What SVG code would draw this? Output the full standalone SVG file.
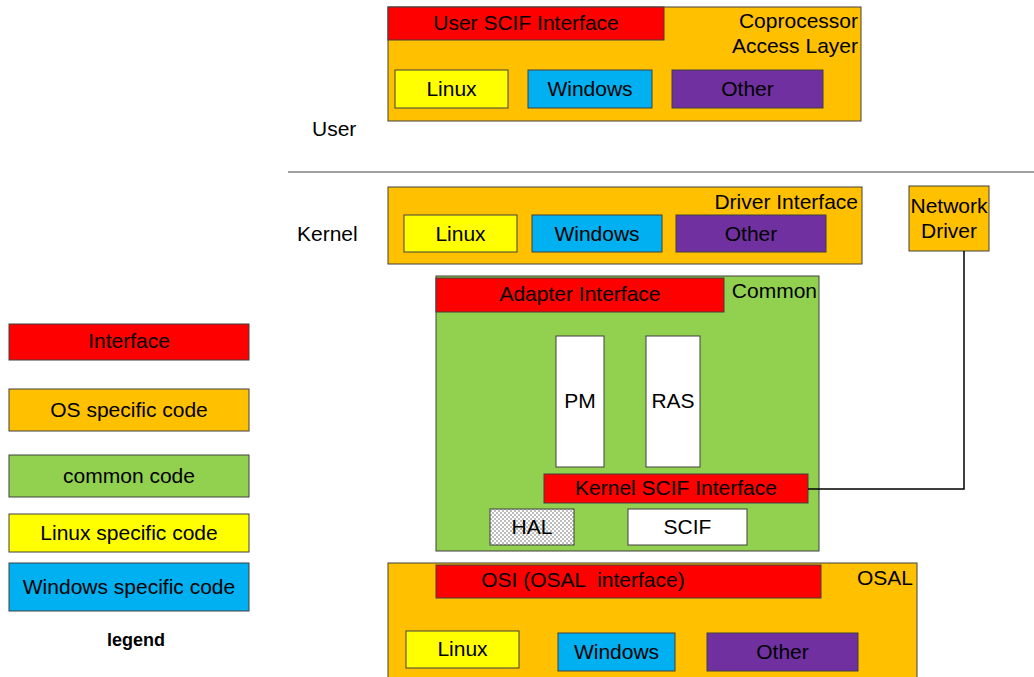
<svg xmlns="http://www.w3.org/2000/svg" width="1034" height="677" viewBox="0 0 1034 677">
<defs>
<pattern id="chk" width="4" height="4" patternUnits="userSpaceOnUse">
<path d="M0 0H4V4H0Z" fill="#ffffff"/>
<path d="M0 0H2V2H0Z M2 2H4V4H2Z" fill="#bdbdbd"/>
</pattern>
</defs>
<style>
rect{stroke:#404040;stroke-width:1}
.or{fill:#FFC000}.rd{fill:#FF0000}.gr{fill:#92D050}.ye{fill:#FFFF00}.bl{fill:#00B0F0}.pu{fill:#7030A0}.wh{fill:#ffffff}
text{font-family:"Liberation Sans",Arial,sans-serif;font-size:21px;fill:#000}
.c{text-anchor:middle}.r{text-anchor:end}
.conn{fill:none;stroke:#000;stroke-width:1.5}
</style>
<line x1="288" y1="172" x2="1034" y2="172" stroke="#808080" stroke-width="1.5"/>
<text x="312" y="136">User</text>
<text x="297" y="241">Kernel</text>

<g id="cal">
<rect class="or" x="388" y="7" width="473" height="114"/>
<rect class="rd" x="388" y="7" width="276" height="33"/>
<text class="c" x="526" y="30">User SCIF Interface</text>
<text class="r" x="858" y="28">Coprocessor</text>
<text class="r" x="858" y="53">Access Layer</text>
</g>
<g id="cal-linux"><rect class="ye" x="395" y="70" width="113" height="38"/><text class="c" x="451.5" y="96">Linux</text></g>
<g id="cal-windows"><rect class="bl" x="528" y="70" width="124" height="38"/><text class="c" x="590" y="96">Windows</text></g>
<g id="cal-other"><rect class="pu" x="672" y="70" width="151" height="38"/><text class="c" x="747.5" y="96">Other</text></g>

<g id="driver">
<rect class="or" x="388" y="187" width="474" height="77"/>
<text class="r" x="858" y="209">Driver Interface</text>
</g>
<g id="drv-linux"><rect class="ye" x="404" y="215" width="113" height="37"/><text class="c" x="460.5" y="241">Linux</text></g>
<g id="drv-windows"><rect class="bl" x="532" y="215" width="130" height="37"/><text class="c" x="597" y="241">Windows</text></g>
<g id="drv-other"><rect class="pu" x="676" y="215" width="150" height="37"/><text class="c" x="751" y="241">Other</text></g>

<g id="network">
<rect class="or" x="909" y="186" width="80" height="65"/>
<text class="c" x="949" y="213">Network</text>
<text class="c" x="949" y="238">Driver</text>
</g>

<g id="common">
<rect class="gr" x="436" y="276" width="383" height="275"/>
<text class="r" x="817" y="298">Common</text>
</g>
<g id="adapter"><rect class="rd" x="436" y="278" width="288" height="34"/><text class="c" x="580" y="301">Adapter Interface</text></g>
<g id="pm"><rect class="wh" x="556" y="336" width="48" height="131"/><text class="c" x="580" y="408">PM</text></g>
<g id="ras"><rect class="wh" x="646" y="336" width="54" height="131"/><text class="c" x="673" y="408">RAS</text></g>
<g id="kscif"><rect class="rd" x="544" y="474" width="264" height="29"/><text class="c" x="676" y="495">Kernel SCIF Interface</text></g>
<g id="hal"><rect fill="url(#chk)" x="490" y="509" width="84" height="36"/><text class="c" x="532" y="534">HAL</text></g>
<g id="scif"><rect class="wh" x="628" y="509" width="119" height="36"/><text class="c" x="687.5" y="534">SCIF</text></g>

<g id="osal">
<rect class="or" x="388" y="563" width="529" height="120"/>
<text class="r" x="913" y="585">OSAL</text>
</g>
<g id="osi"><rect class="rd" x="436" y="565" width="385" height="33"/><text class="c" x="583" y="587" style="white-space:pre">OSI (OSAL  interface)</text></g>
<g id="osal-linux"><rect class="ye" x="406" y="631" width="113" height="37"/><text class="c" x="462.5" y="656">Linux</text></g>
<g id="osal-windows"><rect class="bl" x="558" y="633" width="117" height="38"/><text class="c" x="616.5" y="659">Windows</text></g>
<g id="osal-other"><rect class="pu" x="707" y="633" width="151" height="38"/><text class="c" x="782.5" y="659">Other</text></g>

<g id="connectors">
<polyline class="conn" points="808,489 964,489 964,251"/>
</g>

<g id="legend">
<rect class="rd" x="9" y="324" width="240" height="36"/><text class="c" x="129" y="348">Interface</text>
<rect class="or" x="9" y="389" width="240" height="42"/><text class="c" x="129" y="417">OS specific code</text>
<rect class="gr" x="9" y="455" width="240" height="42"/><text class="c" x="129" y="483">common code</text>
<rect class="ye" x="9" y="514" width="240" height="38"/><text class="c" x="129" y="540">Linux specific code</text>
<rect class="bl" x="9" y="563" width="240" height="48"/><text class="c" x="129" y="594">Windows specific code</text>
<text class="c" x="136" y="646" style="font-size:18px;font-weight:bold">legend</text>
</g>
</svg>
